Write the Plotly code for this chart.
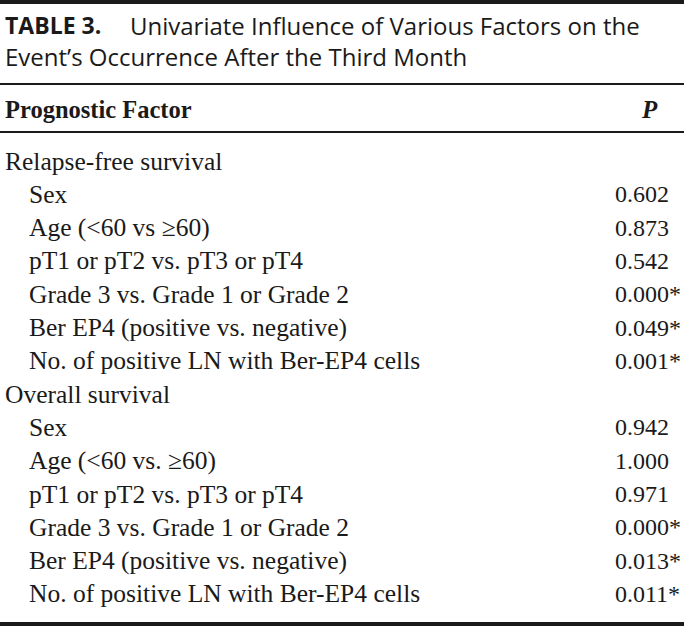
import plotly.graph_objects as go

W, H = 684, 627

title_label = "TABLE 3."
title_line1 = "Univariate Influence of Various Factors on the"
title_line2 = "Event\u2019s Occurrence After the Third Month"
col_headers = ["Prognostic Factor", "P"]

row_labels = [
    "Relapse-free survival",
    "Sex",
    "Age (<60 vs \u226560)",
    "pT1 or pT2 vs. pT3 or pT4",
    "Grade 3 vs. Grade 1 or Grade 2",
    "Ber EP4 (positive vs. negative)",
    "No. of positive LN with Ber-EP4 cells",
    "Overall survival",
    "Sex",
    "Age (<60 vs. \u226560)",
    "pT1 or pT2 vs. pT3 or pT4",
    "Grade 3 vs. Grade 1 or Grade 2",
    "Ber EP4 (positive vs. negative)",
    "No. of positive LN with Ber-EP4 cells",
]
row_is_group = [True, False, False, False, False, False, False,
                True, False, False, False, False, False, False]
p_values = ["", "0.602", "0.873", "0.542", "0.000*", "0.049*", "0.001*",
            "", "0.942", "1.000", "0.971", "0.000*", "0.013*", "0.011*"]

SANS = "Open Sans"
SERIF = "Liberation Serif"
BLACK = "#1a1a1a"

fig = go.Figure()
fig.add_trace(go.Scatter(x=[0, W], y=[0, H], mode="markers",
                         marker=dict(opacity=0), hoverinfo="skip", showlegend=False))

ann = []
# title
ann.append(dict(x=4, y=25, text="<b>" + title_label + "</b>", xanchor="left", yanchor="middle",
                font=dict(family=SANS, size=23, color=BLACK)))
ann.append(dict(x=129, y=25, text=title_line1, xanchor="left", yanchor="middle",
                font=dict(family=SANS, size=24, color=BLACK)))
ann.append(dict(x=4, y=56, text=title_line2, xanchor="left", yanchor="middle",
                font=dict(family=SANS, size=24, color=BLACK)))
# headers
ann.append(dict(x=4, y=109, text="<b>" + col_headers[0] + "</b>", xanchor="left", yanchor="middle",
                font=dict(family=SERIF, size=24.5, color=BLACK)))
ann.append(dict(x=640, y=109, text="<b><i>" + col_headers[1] + "</i></b>", xanchor="left", yanchor="middle",
                font=dict(family=SERIF, size=25, color=BLACK)))

y0, dy = 161, 33.3
for i, (lab, grp, pv) in enumerate(zip(row_labels, row_is_group, p_values)):
    yc = y0 + dy * i
    ann.append(dict(x=4 if grp else 28, y=yc, text=lab.replace("<", "&lt;"), xanchor="left",
                    yanchor="middle", font=dict(family=SERIF, size=25.5, color=BLACK)))
    if pv:
        ann.append(dict(x=614, y=yc, text=pv, xanchor="left", yanchor="middle",
                        font=dict(family=SERIF, size=24, color=BLACK)))

for a in ann:
    a.update(xref="x", yref="y", showarrow=False, borderpad=0)

shapes = []
for yl, w in [(2, 4), (84, 2), (132, 2), (624, 4)]:
    shapes.append(dict(type="line", xref="x", yref="y", x0=0, x1=W, y0=yl, y1=yl,
                       line=dict(color=BLACK, width=w)))

fig.update_layout(
    width=W, height=H, margin=dict(l=0, r=0, t=0, b=0),
    paper_bgcolor="white", plot_bgcolor="white",
    xaxis=dict(range=[0, W], visible=False, fixedrange=True),
    yaxis=dict(range=[H, 0], visible=False, fixedrange=True),
    annotations=ann, shapes=shapes,
)
fig.write_html("out.html", config={"displayModeBar": False},
               post_script="document.body.style.margin='0';document.body.style.overflow='hidden';")
